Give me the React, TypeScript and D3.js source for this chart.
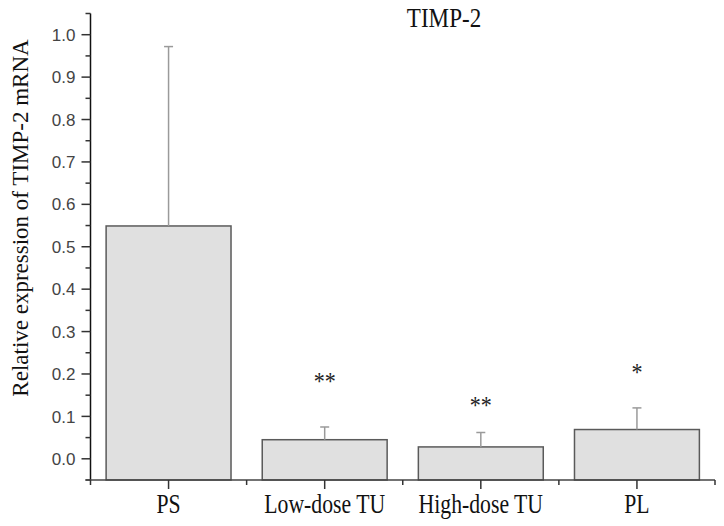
import React from "react";
import * as d3 from "d3";

// data
const groups = ["PS", "Low-dose TU", "High-dose TU", "PL"];
const means = [0.549, 0.045, 0.028, 0.069];
const errors = [0.423, 0.030, 0.034, 0.051];
const marks = ["", "**", "**", "*"];
const markLevels = [0, 0.19, 0.134, 0.211];
const majorTicks = [0, 0.1, 0.2, 0.3, 0.4, 0.5, 0.6, 0.7, 0.8, 0.9, 1.0];
const minorTicks = [-0.05, 0.05, 0.15, 0.25, 0.35, 0.45, 0.55, 0.65, 0.75, 0.85, 0.95, 1.05];

const W = 724;
const H = 526;
const left = 90.5;
const right = 715;
const top = 13.5;
const bottom = 480;

const serif = { fontFamily: '"Liberation Serif", "DejaVu Serif", "Times New Roman", serif' };
const sans = { fontFamily: '"Liberation Sans", Arial, sans-serif' };

const App: React.FC = () => {
  const x = d3.scaleBand<string>().domain(groups).range([left, right]).paddingInner(0.2).paddingOuter(0.1);
  const y = d3.scaleLinear().domain([-0.05, 1.05]).range([bottom, top]);

  // band boundaries for the minor x ticks
  const step = x.step();
  const bounds = d3.range(groups.length + 1).map(i => left + i * step);
  const cx = (g: string) => (x(g) as number) + x.bandwidth() / 2;

  return (
    <svg
      width={W}
      height={H}
      viewBox={`0 0 ${W} ${H}`}
      style={{ position: "absolute", left: 0, top: 0, background: "#fff" }}
    >
      {/* bars */}
      <g>
        {groups.map((g, i) => (
          <rect
            key={g}
            x={x(g)}
            y={y(means[i])}
            width={x.bandwidth()}
            height={y(-0.05) - y(means[i])}
            fill="#e0e0e0"
            stroke="#5a5a5a"
            strokeWidth={1.5}
          />
        ))}
      </g>

      {/* upper error bars */}
      <g stroke="#9a9a9a" strokeWidth={1.5}>
        {groups.map((g, i) => (
          <g key={g}>
            <line x1={cx(g)} x2={cx(g)} y1={y(means[i])} y2={y(means[i] + errors[i])} />
            <line x1={cx(g) - 4.5} x2={cx(g) + 4.5} y1={y(means[i] + errors[i])} y2={y(means[i] + errors[i])} />
          </g>
        ))}
      </g>

      {/* significance marks */}
      <g fill="#222">
        {groups.map((g, i) =>
          marks[i] ? (
            <g key={g} transform={`translate(${cx(g)},${y(markLevels[i]) + 12}) scale(0.85,1)`}>
              <text textAnchor="middle" fontSize={26} style={serif}>{marks[i]}</text>
            </g>
          ) : null
        )}
      </g>

      {/* y axis */}
      <g>
        <line x1={left} x2={left} y1={y(1.05)} y2={bottom} stroke="#111" strokeWidth={1.5} />
        {majorTicks.map(t => (
          <g key={"M" + t}>
            <line x1={left - 9} x2={left} y1={y(t)} y2={y(t)} stroke="#333" strokeWidth={1.5} />
            <text
              x={left - 15}
              y={y(t)}
              dy="0.36em"
              textAnchor="end"
              fontSize={17}
              fill="#444"
              style={sans}
            >
              {d3.format(".1f")(t)}
            </text>
          </g>
        ))}
        {minorTicks.map(t => (
          <line key={"m" + t} x1={left - 5} x2={left} y1={y(t)} y2={y(t)} stroke="#333" strokeWidth={1.5} />
        ))}
      </g>

      {/* x axis */}
      <g>
        <line x1={left - 5} x2={right} y1={bottom} y2={bottom} stroke="#444" strokeWidth={1.5} />
        {groups.map(g => (
          <line key={g} x1={cx(g)} x2={cx(g)} y1={bottom} y2={bottom + 9} stroke="#333" strokeWidth={1.5} />
        ))}
        {bounds.map(b => (
          <line key={b} x1={b} x2={b} y1={bottom} y2={bottom + 5} stroke="#333" strokeWidth={1.5} />
        ))}
        {groups.map(g => (
          <g key={g} transform={`translate(${cx(g)},${bottom + 32.5}) scale(0.82,1)`}>
            <text textAnchor="middle" fontSize={26.5} fill="#111" style={serif}>
              {g}
            </text>
          </g>
        ))}
      </g>

      {/* titles */}
      <g transform={`translate(444,26.7) scale(0.84,1)`}>
        <text textAnchor="middle" fontSize={27.5} fill="#111" style={serif}>
          TIMP-2
        </text>
      </g>
      <text
        transform={`translate(27.5,218) rotate(-90)`}
        textAnchor="middle"
        fontSize={23}
        fill="#111"
        style={serif}
      >
        Relative expression of TIMP-2 mRNA
      </text>
    </svg>
  );
};

export default App;
